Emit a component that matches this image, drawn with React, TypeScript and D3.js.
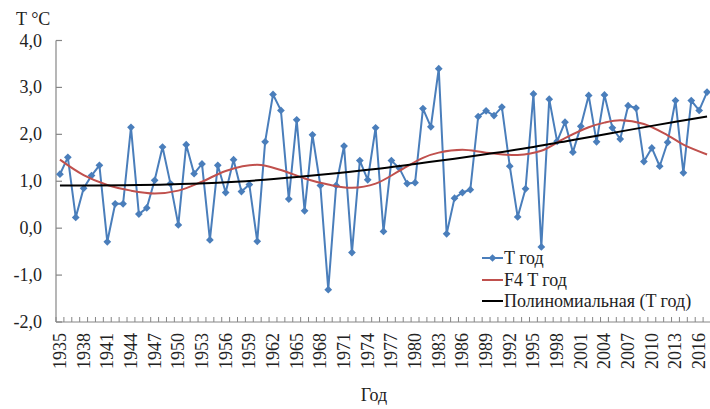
import React from "react";
import * as d3 from "d3";

// Annual mean temperature, 1935–2017
const years: number[] = d3.range(1935, 2018);
const tYear: number[] = [
  1.15, 1.51, 0.23, 0.85, 1.12, 1.34, -0.29, 0.52, 0.52, 2.15,
  0.3, 0.43, 1.02, 1.73, 0.95, 0.07, 1.78, 1.16, 1.37, -0.25,
  1.34, 0.76, 1.46, 0.78, 0.93, -0.28, 1.84, 2.85, 2.51, 0.62,
  2.31, 0.37, 1.99, 0.91, -1.31, 0.91, 1.75, -0.52, 1.44, 1.03,
  2.14, -0.07, 1.44, 1.28, 0.95, 0.97, 2.55, 2.16, 3.4, -0.12,
  0.64, 0.76, 0.82, 2.38, 2.5, 2.4, 2.58, 1.32, 0.24, 0.84,
  2.86, -0.4, 2.75, 1.85, 2.26, 1.62, 2.17, 2.83, 1.84, 2.84,
  2.14, 1.9, 2.61, 2.56, 1.42, 1.71, 1.32, 1.83, 2.72, 1.18,
  2.72, 2.51, 2.9,
];

// Smoothed series (F4) sampled along its course
const f4Years: number[] = [1935, 1938, 1941, 1944, 1947, 1950, 1953, 1956, 1960, 1963, 1966, 1969, 1972, 1975, 1978, 1981, 1983, 1986, 1989, 1993, 1996, 1999, 2002, 2004, 2006, 2009, 2012, 2014, 2017];
const f4Values: number[] = [1.46, 1.13, 0.92, 0.8, 0.74, 0.8, 0.99, 1.22, 1.35, 1.24, 1.06, 0.93, 0.86, 0.95, 1.22, 1.5, 1.61, 1.67, 1.61, 1.56, 1.65, 1.92, 2.15, 2.25, 2.3, 2.22, 1.98, 1.78, 1.57];

// Polynomial trend
const trendYears: number[] = [1935, 1945, 1955, 1960, 1965, 1970, 1975, 1980, 1985, 1990, 1995, 2000, 2005, 2010, 2017];
const trendValues: number[] = [0.91, 0.92, 0.97, 1.02, 1.09, 1.17, 1.26, 1.37, 1.48, 1.6, 1.73, 1.88, 2.03, 2.18, 2.38];

const yTicks: number[] = [-2, -1, 0, 1, 2, 3, 4];
const xLabelYears: number[] = d3.range(1935, 2018, 3);
const legendLabels: string[] = ["T год", "F4 T год", "Полиномиальная (T год)"];

const W = 710;
const H = 409;
const left = 56;
const right = 711;
const top = 40.5;
const bottom = 322;

const BLUE = "#4a7ebb";
const RED = "#c0504d";
const AXIS = "#868686";
const FONT = "Liberation Serif, Times New Roman, Times, Tinos, DejaVu Serif, Noto Serif, FreeSerif, serif";

export default function App() {
  const x = d3.scaleBand<number>().domain(years).range([left, right]).padding(0);
  const bw = x.bandwidth();
  const cx = (yr: number) => (x(yr) as number) + bw / 2;
  // continuous year scale aligned with band centres
  const xc = d3.scaleLinear().domain([years[0], years[years.length - 1]]).range([cx(years[0]), cx(years[years.length - 1])]);
  const y = d3.scaleLinear().domain([-2, 4]).range([bottom, top]);

  const dataLine = d3.line<number>().x((_, i) => cx(years[i])).y((d) => y(d));
  const smoothLine = d3
    .line<number>()
    .x((_, i) => xc(f4Years[i]))
    .y((d) => y(d))
    .curve(d3.curveCatmullRom.alpha(0.5));
  const trendLine = d3
    .line<number>()
    .x((_, i) => xc(trendYears[i]))
    .y((d) => y(d))
    .curve(d3.curveCatmullRom.alpha(0.5));

  const diamond = d3.symbol(d3.symbolSquare, 30)() as string;

  const tickXs = [...years.map((yr) => x(yr) as number), right];

  const legendX = 482;
  const legendYs = [258, 280, 301];

  return (
    <svg width={W} height={H} style={{ position: "absolute", left: 0, top: 0, background: "#fff" }}>
      <rect width={W} height={H} fill="#fff" />

      <g fontFamily={FONT} fontSize={18} fill="#222">
        {/* axes */}
        <line x1={left} x2={left} y1={top} y2={bottom} stroke={AXIS} strokeWidth={1.2} />
        <line x1={left} x2={right} y1={bottom} y2={bottom} stroke={AXIS} strokeWidth={1.2} />
        {yTicks.map((t) => (
          <g key={t}>
            <line x1={left} x2={left + 6} y1={y(t)} y2={y(t)} stroke={AXIS} strokeWidth={1.2} />
            <text x={42} y={y(t)} textAnchor="end" dominantBaseline="central">
              {t.toFixed(1).replace(".", ",")}
            </text>
          </g>
        ))}
        {tickXs.map((tx, i) => (
          <line key={i} x1={tx} x2={tx} y1={bottom} y2={bottom - 5} stroke={AXIS} strokeWidth={1} />
        ))}
        {xLabelYears.map((yr) => (
          <text
            key={yr}
            transform={`translate(${cx(yr)},${333}) rotate(-90)`}
            textAnchor="end"
            dominantBaseline="central"
          >
            {yr}
          </text>
        ))}
        <text x={16} y={25}>T °C</text>
        <text x={374} y={401} textAnchor="middle">Год</text>

        {/* series */}
        <path d={dataLine(tYear) as string} fill="none" stroke={BLUE} strokeWidth={2} strokeLinejoin="round" />
        {tYear.map((v, i) => (
          <path key={i} d={diamond} transform={`translate(${cx(years[i])},${y(v)}) rotate(45)`} fill={BLUE} />
        ))}
        <path d={smoothLine(f4Values) as string} fill="none" stroke={RED} strokeWidth={2} />
        <path d={trendLine(trendValues) as string} fill="none" stroke="#000" strokeWidth={2} />

        {/* legend */}
        {legendLabels.map((lab, i) => (
          <g key={lab}>
            <line
              x1={legendX}
              x2={legendX + 21}
              y1={legendYs[i]}
              y2={legendYs[i]}
              stroke={i === 0 ? BLUE : i === 1 ? RED : "#000"}
              strokeWidth={2}
            />
            {i === 0 && (
              <path d={diamond} transform={`translate(${legendX + 10.5},${legendYs[i]}) rotate(45)`} fill={BLUE} />
            )}
            <text x={legendX + 22} y={legendYs[i]} dominantBaseline="central">
              {lab}
            </text>
          </g>
        ))}
      </g>
    </svg>
  );
}
